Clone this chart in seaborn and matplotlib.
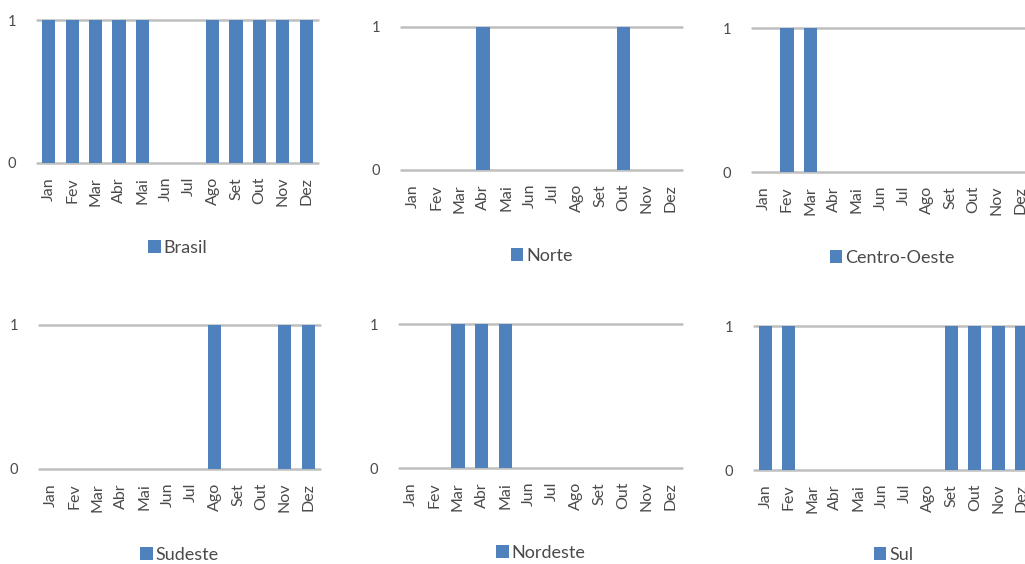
import numpy as np
import pandas as pd
import matplotlib
matplotlib.use("Agg")
import matplotlib.pyplot as plt
import seaborn as sns

meses = ['Jan', 'Fev', 'Mar', 'Abr', 'Mai', 'Jun', 'Jul', 'Ago', 'Set', 'Out', 'Nov', 'Dez']

brasil = [1, 1, 1, 1, 1, 0, 0, 1, 1, 1, 1, 1]
norte = [0, 0, 0, 1, 0, 0, 0, 0, 0, 1, 0, 0]
centro_oeste = [0, 1, 1, 0, 0, 0, 0, 0, 0, 0, 0, 0]
sudeste = [0, 0, 0, 0, 0, 0, 0, 1, 0, 0, 1, 1]
nordeste = [0, 0, 1, 1, 1, 0, 0, 0, 0, 0, 0, 0]
sul = [1, 1, 0, 0, 0, 0, 0, 0, 1, 1, 1, 1]

regioes = ['Brasil', 'Norte', 'Centro-Oeste', 'Sudeste', 'Nordeste', 'Sul']
valores = [brasil, norte, centro_oeste, sudeste, nordeste, sul]

sns.set_theme(style="white")
plt.rcParams['font.family'] = ['Lato', 'DejaVu Sans']

W, H = 1025, 564
cor = '#4F81BD'
cinza = '#4a4a4a'

# left, right, top(y=1), bottom(y=0), legend y  (pixels)
caixas = [
    (37, 318, 20, 163, 248),
    (401, 682, 27, 170, 256),
    (752, 1032, 28, 172, 258),
    (39, 320, 325, 469, 555),
    (399, 682, 324, 468, 553),
    (754, 1033, 326, 470, 555),
]

fig = plt.figure(figsize=(W / 100, H / 100), dpi=100)

for nome, vals, (l, r, t, b, ly) in zip(regioes, valores, caixas):
    ax = fig.add_axes([l / W, 1 - b / H, (r - l) / W, (b - t) / H])
    df = pd.DataFrame({'mes': meses, 'v': vals})
    sns.barplot(data=df, x='mes', y='v', color=cor, saturation=1, width=0.56,
                linewidth=0, ax=ax, label=nome, zorder=2)
    ax.set_ylim(0, 1)
    ax.set_xlim(-0.5, 11.5)
    for v in [0, 1]:
        ax.axhline(v, color='#BFBFBF', lw=1.8, zorder=1, clip_on=False)
    for s in ax.spines.values():
        s.set_visible(False)
    ax.set_yticks([0, 1])
    ax.set_yticklabels(['0', '1'])
    ax.set_xlabel('')
    ax.set_ylabel('')
    ax.tick_params(axis='y', length=0, pad=15, labelsize=10.5, labelcolor=cinza)
    ax.tick_params(axis='x', length=0, pad=10, labelsize=11.5, labelcolor=cinza,
                   rotation=90)
    ax.set_facecolor('none')
    ax.legend(loc='center', bbox_to_anchor=(((l + r) / 2) / W, 1 - ly / H),
              bbox_transform=fig.transFigure, frameon=False, fontsize=13,
              handlelength=0.7, handleheight=0.7, handletextpad=0.15,
              labelcolor=cinza)

plt.savefig('out.png', dpi=100)
